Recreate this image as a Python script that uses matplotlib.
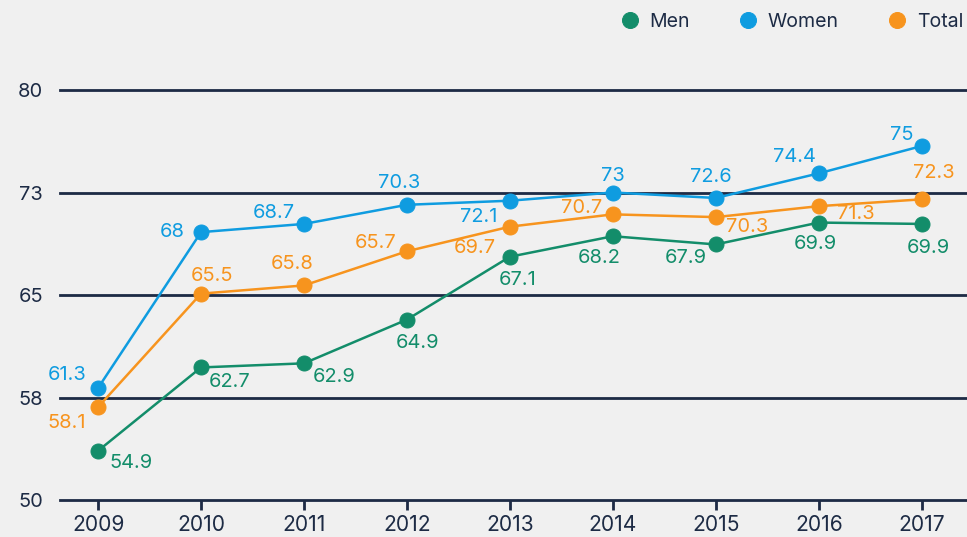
import matplotlib
matplotlib.use("Agg")
import matplotlib.pyplot as plt
from matplotlib.lines import Line2D

years = [2009, 2010, 2011, 2012, 2013, 2014, 2015, 2016, 2017]

# plotted heights as drawn in the picture
men_pos = [53.6, 59.7, 60.0, 63.2, 67.8, 69.3, 68.7, 70.3, 70.2]
women_pos = [58.2, 69.6, 70.2, 71.6, 71.9, 72.5, 72.1, 73.9, 75.9]
total_pos = [56.8, 65.1, 65.7, 68.2, 70.0, 70.9, 70.7, 71.5, 72.0]

# printed data labels
men_lab = ["54.9", "62.7", "62.9", "64.9", "67.1", "68.2", "67.9", "69.9", "69.9"]
women_lab = ["61.3", "68", "68.7", "70.3", "72.1", "73", "72.6", "74.4", "75"]
total_lab = ["58.1", "65.5", "65.8", "65.7", "69.7", "70.7", "70.3", "71.3", "72.3"]

yticks = [50, 57.5, 65, 72.5, 80]
ytick_labels = ["50", "58", "65", "73", "80"]

# label offsets (pixels)
men_off = [(33, -12), (29, -15), (30, -14), (11, -23), (8, -23), (-14, -22), (-30, -14), (-3, -21), (7, -24)]
women_off = [(-31, 13), (-29, 0), (-30, 11), (-8, 22), (-31, -16), (0, 17), (-5, 21), (-24, 16), (-20, 11)]
total_off = [(-31, -16), (11, 18), (-12, 21), (-31, 8), (-35, -21), (-31, 6), (31, -10), (37, -8), (12, 26)]

green = "#138d6a"
blue = "#0f9ce0"
orange = "#f7941e"
navy = "#1d2b45"
bg = "#f0f0f0"

plt.rcParams['font.family'] = ['Inter', 'DejaVu Sans']

fig = plt.figure(figsize=(967/72, 537/72), dpi=72, facecolor=bg)
ax = fig.add_axes([60/967, 37/537, 907/967, 410/537])
ax.set_facecolor(bg)

for s in ax.spines.values():
    s.set_visible(False)

ax.set_xlim(2008.63, 2017.44)
ax.set_ylim(50, 80)
ax.set_yticks(yticks)
ax.set_yticklabels(ytick_labels)
ax.set_xticks(years)
ax.grid(axis="y", color=navy, linewidth=2.8)
for gl in ax.get_ygridlines():
    gl.set_clip_on(False)
ax.set_axisbelow(True)
ax.tick_params(axis="y", length=0, pad=17, labelsize=20, labelcolor=navy)
ax.tick_params(axis="x", length=10, width=2.8, color=navy, pad=5, labelsize=21, labelcolor=navy)

series = [
    (men_pos, men_lab, men_off, green, "Men"),
    (women_pos, women_lab, women_off, blue, "Women"),
    (total_pos, total_lab, total_off, orange, "Total"),
]
for pos, lab, off, col, name in series:
    ax.plot(years, pos, color=col, linewidth=2.5, marker="o", markersize=15, zorder=3, clip_on=False)
    for x, y, t, o in zip(years, pos, lab, off):
        ax.annotate(t, (x, y), xytext=o, textcoords="offset points",
                    ha="center", va="center", fontsize=20, color=col, zorder=4)

handles = [Line2D([], [], linestyle="none", marker="o", markersize=16, color=c)
           for c in (green, blue, orange)]
fig.legend(handles, ["Men", "Women", "Total"], loc="center left",
           bbox_to_anchor=(622/967, 1 - 22/537), ncol=3, frameon=False,
           fontsize=19.5, labelcolor=navy, handlelength=0.8, handletextpad=0.6,
           columnspacing=2.6, borderpad=0, borderaxespad=0)

fig.savefig("out.png", dpi=72, facecolor=bg)
